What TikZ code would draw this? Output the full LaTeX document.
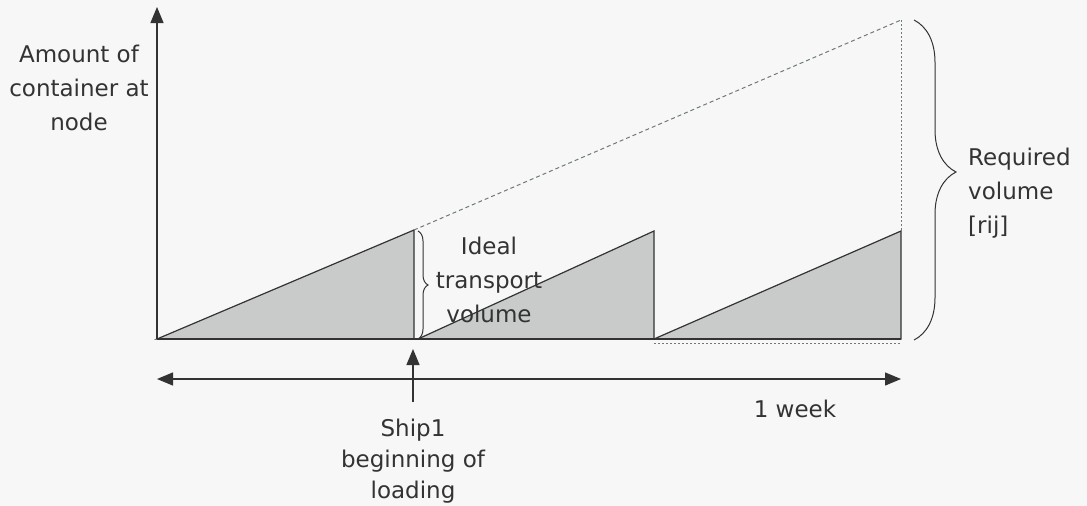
\documentclass[tikz,border=0pt]{standalone}
\usepackage{fontspec}
\setmainfont{DejaVu Sans}
\usetikzlibrary{positioning,arrows.meta,decorations.pathreplacing}
\definecolor{inkGray}{HTML}{333333}
\definecolor{fillGray}{HTML}{C9CACA}
\definecolor{paperGray}{HTML}{F7F7F7}
\definecolor{dashGray}{HTML}{6E7A78}
\tikzset{
    label/.style={align=center,text=inkGray,font=\fontsize{23}{34}\selectfont,inner sep=0pt},
    axis/.style={draw=inkGray,line width=1.4pt},
    tip/.style={-{Triangle[length=16pt,width=13pt]}},
    bothtip/.style={{Triangle[length=16pt,width=13pt]}-{Triangle[length=16pt,width=13pt]}},
    load/.style={draw=inkGray,fill=fillGray,line width=1.2pt,line join=miter},
    guide/.style={draw=dashGray,line width=1pt,dash pattern=on 4pt off 3pt},
    dotguide/.style={draw=dashGray,line width=1pt,dash pattern=on 2pt off 2pt},
    bracket/.style={draw=inkGray,line width=1pt,decorate}
}
\begin{document}
\begin{tikzpicture}[x=1pt,y=-1pt]
        \fill[paperGray] (0,0) rectangle (1087,506);
        \useasboundingbox (0,0) rectangle (1087,506);

        % axes
        \coordinate (origin) at (157,339);
        \coordinate (ytop) at (157,7);
        \coordinate (xend) at (901,339);
        \draw[axis,tip] (origin) -- (ytop);

        % loading triangles
        \draw[load] (157,339) -- (414,230) -- (414,339) -- cycle;
        \draw[load] (418,339) -- (654,231) -- (654,339) -- cycle;
        \draw[load] (654,339) -- (901,231) -- (901,339) -- cycle;
        \draw[dotguide] (654,343) -- (901,343);
        \draw[axis] (origin) -- (xend);

        % required volume guide
        \coordinate (peak1) at (414,230);
        \coordinate (weekTop) at (901,20);
        \coordinate (peak3) at (901,231);
        \draw[guide] (peak1) -- (weekTop);
        \draw[dotguide] (weekTop) -- (peak3);

        % braces
        \draw[bracket,decoration={brace,amplitude=10pt}] (418,231) -- (418,339);
        \draw[bracket,decoration={brace,amplitude=42pt,aspect=0.475}] (914,20) -- (914,340);

        % time line
        \coordinate (tStart) at (157,379);
        \coordinate (tEnd) at (901,379);
        \draw[axis,bothtip] (tStart) -- (tEnd);
        \coordinate (shipFoot) at (413,402);
        \coordinate (shipHead) at (413,349);
        \draw[axis,tip] (shipFoot) -- (shipHead);

        % labels
        \node[label] (amount) at (79,88) {Amount of\\container at\\node};
        \node[label] (ideal) at (489,280) {Ideal\\transport\\volume};
        \node[label,align=left,anchor=west] (required) at (968,193) {Required\\volume\\{[rij]}};
        \node[label] (week) at (795,409) {1 week};
        \node[label,font=\fontsize{23}{31}\selectfont] (ship) at (413,461) {Ship1\\beginning of\\loading};
    \end{tikzpicture}
\end{document}
